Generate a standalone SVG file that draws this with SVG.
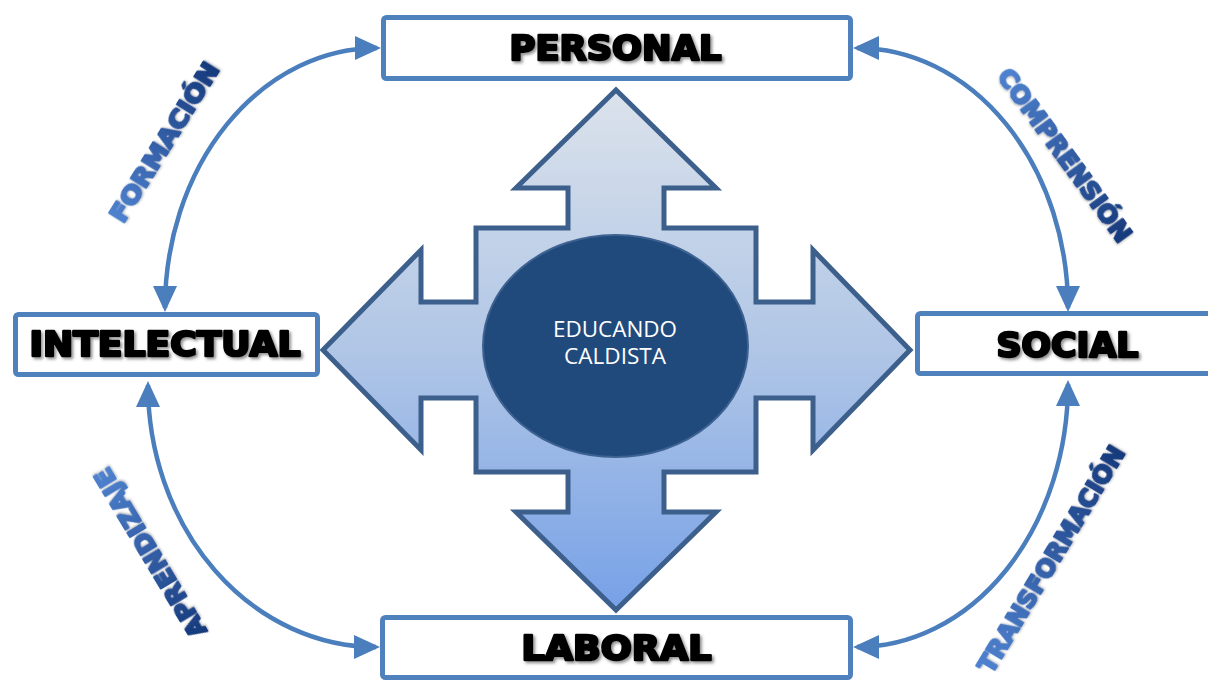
<svg xmlns="http://www.w3.org/2000/svg" width="1208" height="686" viewBox="0 0 1208 686">
  <defs>
    <style>
      .box { fill: #ffffff; stroke: #4f81bd; stroke-width: 5; }
      .lbl { font-family: "DejaVu Sans", "Liberation Sans", sans-serif; font-weight: bold; font-size: 34px; fill: #000000; stroke: #000000; stroke-width: 2.6; stroke-linejoin: round; text-anchor: middle; filter: url(#shadow); }
      .conn { fill: none; stroke: #4a7ebc; stroke-width: 4.5; marker-start: url(#ah); marker-end: url(#ah); }
      .arc-lbl { font-family: "DejaVu Sans", "Liberation Sans", sans-serif; font-weight: bold; font-size: 25px; text-anchor: middle; stroke-width: 2.2; stroke-linejoin: round; filter: url(#shadow2); }
      .center-txt { font-family: "Open Sans", "Liberation Sans", sans-serif; font-size: 21px; fill: #ffffff; text-anchor: middle; }
    </style>
    <linearGradient id="crossGrad" gradientUnits="userSpaceOnUse" x1="0" y1="90" x2="0" y2="610">
      <stop offset="0" stop-color="#dbe2eb"/>
      <stop offset="0.5" stop-color="#b0c6e6"/>
      <stop offset="1" stop-color="#77a1e7"/>
    </linearGradient>
    <linearGradient id="txtGradA" x1="0" y1="0" x2="1" y2="0">
      <stop offset="0" stop-color="#4f82cf"/>
      <stop offset="1" stop-color="#163a7c"/>
    </linearGradient>
    <linearGradient id="txtGradB" x1="0" y1="0" x2="1" y2="0">
      <stop offset="0" stop-color="#163a7c"/>
      <stop offset="1" stop-color="#4f82cf"/>
    </linearGradient>
    <filter id="shadow" x="-10%" y="-30%" width="120%" height="160%">
      <feDropShadow dx="2" dy="2" stdDeviation="1.5" flood-color="#444444" flood-opacity="0.6"/>
    </filter>
    <filter id="shadow2" x="-10%" y="-40%" width="120%" height="180%">
      <feDropShadow dx="1" dy="1" stdDeviation="1" flood-color="#333333" flood-opacity="0.35"/>
    </filter>
    <marker id="ah" markerUnits="userSpaceOnUse" markerWidth="26" markerHeight="24" refX="22" refY="12" orient="auto-start-reverse">
      <path d="M0,0 L26,12 L0,24 z" fill="#4a7ebc"/>
    </marker>
  </defs>

  <g id="cross">
    <polygon points="616,90 716,188 664,188 664,228 756,228 756,302 813,302 813,250 910,350 813,450 813,398 756,398 756,472 664,472 664,512 716,512 616,610 516,512 568,512 568,472 476,472 476,398 421,398 421,450 323,350 421,250 421,302 476,302 476,228 568,228 568,188 516,188" fill="url(#crossGrad)" stroke="#3c5f8c" stroke-width="5" stroke-linejoin="miter"/>
  </g>

  <g id="center">
    <ellipse cx="615.5" cy="346" rx="132.5" ry="111" fill="#214a7c" stroke="#3d6291" stroke-width="2"/>
    <text class="center-txt" x="615" y="337" textLength="124" lengthAdjust="spacingAndGlyphs">EDUCANDO</text>
    <text class="center-txt" x="615" y="364" textLength="102" lengthAdjust="spacingAndGlyphs">CALDISTA</text>
  </g>

  <g id="connectors">
    <path class="conn" d="M377,48 A212,260 0 0 0 165,308"/>
    <path class="conn" d="M857,48 A211,260 0 0 1 1068,308"/>
    <path class="conn" d="M148,385 A228,262 0 0 0 376,647"/>
    <path class="conn" d="M1068,384 A211,263 0 0 1 857,647"/>
  </g>

  <g id="personal">
    <rect class="box" x="383.5" y="17.5" width="467" height="61" rx="3"/>
    <text class="lbl" x="615.5" y="60" textLength="212" lengthAdjust="spacingAndGlyphs">PERSONAL</text>
  </g>
  <g id="intelectual">
    <rect class="box" x="15.5" y="314.5" width="302" height="60" rx="3"/>
    <text class="lbl" x="165" y="356" textLength="271" lengthAdjust="spacingAndGlyphs">INTELECTUAL</text>
  </g>
  <g id="social">
    <rect class="box" x="917.5" y="313.5" width="310" height="60" rx="3"/>
    <text class="lbl" x="1067.5" y="357" textLength="142" lengthAdjust="spacingAndGlyphs">SOCIAL</text>
  </g>
  <g id="laboral">
    <rect class="box" x="382.5" y="617.5" width="468" height="60" rx="3"/>
    <text class="lbl" x="616.5" y="660" textLength="190" lengthAdjust="spacingAndGlyphs">LABORAL</text>
  </g>

  <g id="arc-labels">
    <text class="arc-lbl" fill="url(#txtGradA)" stroke="url(#txtGradA)" transform="translate(164,142) rotate(-58)" x="0" y="9" textLength="183" lengthAdjust="spacingAndGlyphs">FORMACIÓN</text>
    <text class="arc-lbl" fill="url(#txtGradA)" stroke="url(#txtGradA)" transform="translate(1065,155) rotate(53.9)" x="0" y="9" textLength="208" lengthAdjust="spacingAndGlyphs">COMPRENSIÓN</text>
    <text class="arc-lbl" fill="url(#txtGradB)" stroke="url(#txtGradB)" transform="translate(150,553) rotate(-121)" x="0" y="9" textLength="193" lengthAdjust="spacingAndGlyphs">APRENDIZAJE</text>
    <text class="arc-lbl" fill="url(#txtGradA)" stroke="url(#txtGradA)" transform="translate(1051,559) rotate(-58.9)" x="0" y="9" textLength="260" lengthAdjust="spacingAndGlyphs">TRANSFORMACIÓN</text>
  </g>
</svg>
